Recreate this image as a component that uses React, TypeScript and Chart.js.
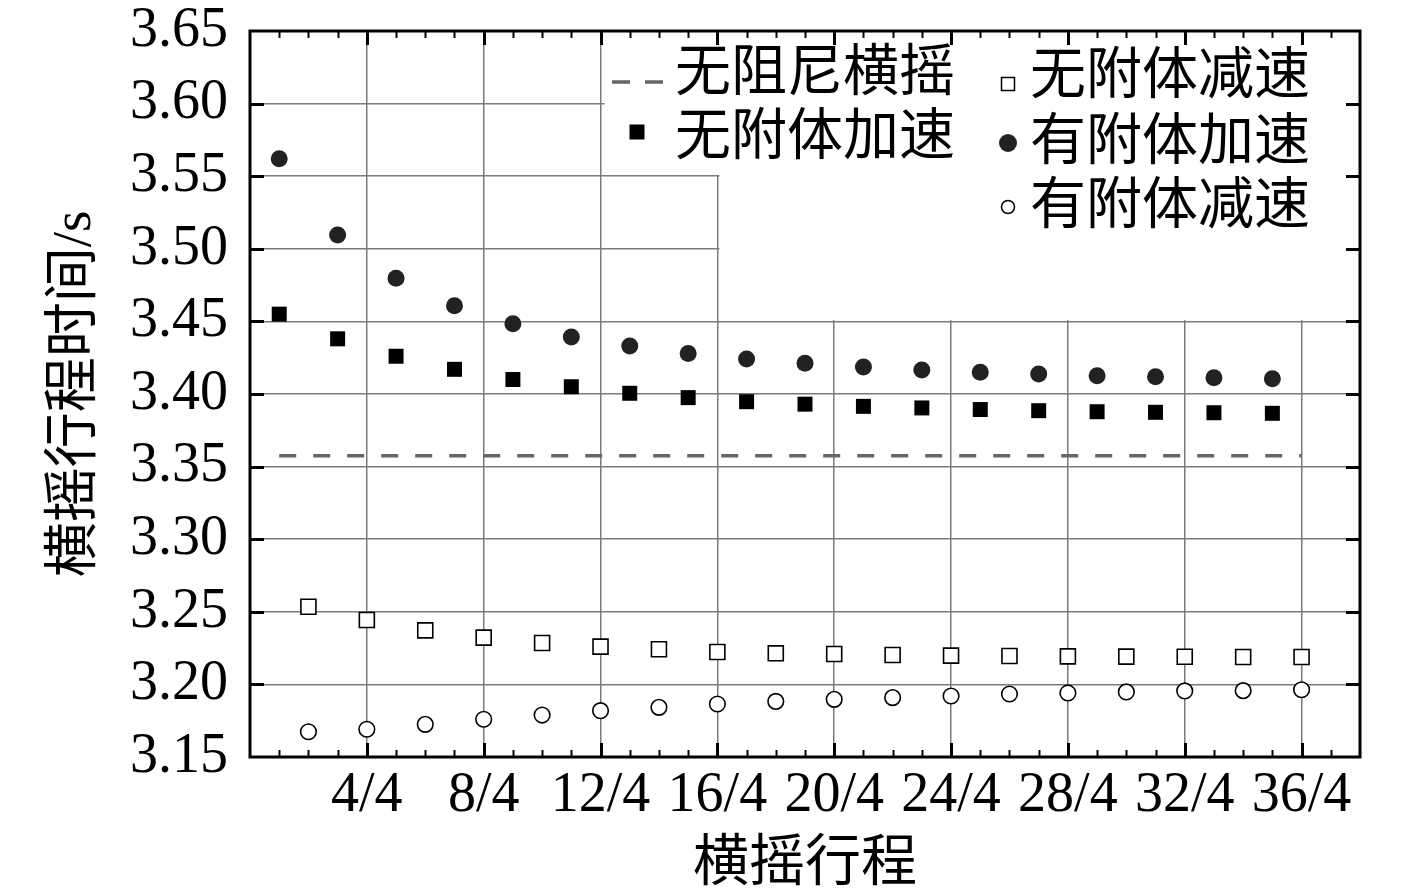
import React, { useEffect, useRef } from 'react';
import { Chart, registerables } from 'chart.js';

Chart.register(...registerables);

const FONT = '"Liberation Serif", "Noto Sans CJK SC", serif';

// 横摇行程 (quarter units) for the two groups of runs
const accelStrokes = [1, 3, 5, 7, 9, 11, 13, 15, 17, 19, 21, 23, 25, 27, 29, 31, 33, 35];
const decelStrokes = [2, 4, 6, 8, 10, 12, 14, 16, 18, 20, 22, 24, 26, 28, 30, 32, 34, 36];

// 横摇行程时间 / s
const noAppendageAccel = [3.455, 3.438, 3.426, 3.417, 3.41, 3.405, 3.4005, 3.3975, 3.3947, 3.393, 3.3915, 3.3904, 3.3893, 3.3885, 3.3878, 3.3874, 3.3871, 3.3867];
const withAppendageAccel = [3.562, 3.5095, 3.4797, 3.4608, 3.4484, 3.4393, 3.4331, 3.4279, 3.4241, 3.4211, 3.4186, 3.4165, 3.415, 3.4138, 3.4126, 3.4119, 3.4112, 3.4105];
const noAppendageDecel = [3.2535, 3.2444, 3.2372, 3.2322, 3.2285, 3.226, 3.2242, 3.2223, 3.2214, 3.2209, 3.2202, 3.2198, 3.2196, 3.2193, 3.2191, 3.219, 3.2189, 3.2189];
const withAppendageDecel = [3.1674, 3.1691, 3.1725, 3.176, 3.1789, 3.1819, 3.1842, 3.1865, 3.1883, 3.1897, 3.1909, 3.192, 3.1934, 3.1941, 3.1948, 3.1955, 3.1957, 3.1963];

const undampedPeriod = [3.3575, 3.3575];
const undampedStrokes = [1, 36];

const xTickValues = [4, 8, 12, 16, 20, 24, 28, 32, 36];
const xTickLabels = ['4/4', '8/4', '12/4', '16/4', '20/4', '24/4', '28/4', '32/4', '36/4'];

const seriesLabels = ['无阻尼横摇', '无附体加速', '有附体加速', '无附体减速', '有附体减速'];
const xTitle = '横摇行程';
const yTitle = '横摇行程时间/s';

const toPoints = (xs: number[], ys: number[]) => xs.map((x, i) => ({ x, y: ys[i] }));

// legend placement (style): sample kind, sample centre, text start
const legendLayout = [
  { ds: 0, kind: 'dash', sx: 637, sy: 82, tx: 675, ty: 75 },
  { ds: 1, kind: 'fsq', sx: 637, sy: 132, tx: 675, ty: 139 },
  { ds: 3, kind: 'osq', sx: 1008, sy: 84, tx: 1030, ty: 78 },
  { ds: 2, kind: 'fci', sx: 1008, sy: 143, tx: 1030, ty: 144 },
  { ds: 4, kind: 'oci', sx: 1008, sy: 207, tx: 1030, ty: 208 },
];

const framePlugin = {
  id: 'framePlugin',
  beforeDatasetsDraw(chart: any) {
    const { ctx, chartArea: a, scales } = chart;
    const x = scales.x;
    const y = scales.y;
    ctx.save();
    ctx.fillStyle = '#fff';
    const xA = x.getPixelForValue(12) + 4;
    const yA = y.getPixelForValue(3.55) - 1.2;
    ctx.fillRect(xA, a.top, a.right - xA, yA - a.top);
    const xB = x.getPixelForValue(16) + 2;
    const yB = y.getPixelForValue(3.45) - 1.2;
    ctx.fillRect(xB, a.top, a.right - xB, yB - a.top);
    ctx.restore();
  },
  afterDraw(chart: any) {
    const { ctx, chartArea: a, scales } = chart;
    const x = scales.x;
    const y = scales.y;
    ctx.save();
    ctx.strokeStyle = '#000';
    ctx.lineCap = 'butt';
    // x ticks (inward) on bottom and top
    for (let v = Math.ceil(x.min) + 1; v < x.max; v++) {
      const px = Math.round(x.getPixelForValue(v)) + 0.5;
      const major = v % 4 === 0;
      const len = major ? 14 : 7;
      ctx.lineWidth = major ? 3 : 2;
      ctx.beginPath();
      ctx.moveTo(px, a.bottom);
      ctx.lineTo(px, a.bottom - len);
      ctx.moveTo(px, a.top);
      ctx.lineTo(px, a.top + len);
      ctx.stroke();
    }
    // y ticks (inward) on left and right
    ctx.lineWidth = 3;
    y.ticks.forEach((t: any) => {
      if (t.value <= y.min + 1e-9 || t.value >= y.max - 1e-9) return;
      const py = Math.round(y.getPixelForValue(t.value)) + 0.5;
      ctx.beginPath();
      ctx.moveTo(a.left, py);
      ctx.lineTo(a.left + 14, py);
      ctx.moveTo(a.right, py);
      ctx.lineTo(a.right - 14, py);
      ctx.stroke();
    });
    // frame
    ctx.lineWidth = 3;
    ctx.strokeRect(a.left, a.top, a.right - a.left, a.bottom - a.top);

    // legend
    const dsets = chart.data.datasets;
    legendLayout.forEach((item) => {
      const { sx, sy } = item;
      ctx.save();
      if (item.kind === 'dash') {
        ctx.strokeStyle = '#666';
        ctx.lineWidth = 3.5;
        ctx.beginPath();
        ctx.moveTo(sx - 25, sy);
        ctx.lineTo(sx - 7, sy);
        ctx.moveTo(sx + 8, sy);
        ctx.lineTo(sx + 26, sy);
        ctx.stroke();
      } else if (item.kind === 'fsq') {
        ctx.fillStyle = '#000';
        ctx.fillRect(sx - 7.5, sy - 7.5, 15, 15);
      } else if (item.kind === 'osq') {
        ctx.strokeStyle = '#000';
        ctx.lineWidth = 1.5;
        ctx.fillStyle = '#fff';
        ctx.fillRect(sx - 6.5, sy - 6.5, 13, 13);
        ctx.strokeRect(sx - 6.5, sy - 6.5, 13, 13);
      } else if (item.kind === 'fci') {
        ctx.fillStyle = '#222';
        ctx.beginPath();
        ctx.arc(sx, sy, 9, 0, Math.PI * 2);
        ctx.fill();
      } else if (item.kind === 'oci') {
        ctx.strokeStyle = '#000';
        ctx.lineWidth = 1.5;
        ctx.beginPath();
        ctx.arc(sx, sy, 6.5, 0, Math.PI * 2);
        ctx.stroke();
      }
      ctx.restore();
      ctx.fillStyle = '#000';
      ctx.font = `56px ${FONT}`;
      ctx.textAlign = 'left';
      ctx.textBaseline = 'middle';
      ctx.fillText(dsets[item.ds].label, item.tx, item.ty);
    });
    ctx.restore();
  },
};

export default function App() {
  const ref = useRef<HTMLCanvasElement>(null);

  useEffect(() => {
    if (!ref.current) return;
    const chart = new Chart(ref.current, {
      type: 'scatter',
      data: {
        datasets: [
          {
            label: seriesLabels[0],
            data: toPoints(undampedStrokes, undampedPeriod),
            showLine: true,
            borderColor: '#666',
            borderWidth: 3.5,
            borderDash: [17, 17],
            pointRadius: 0,
            pointHoverRadius: 0,
            fill: false,
          },
          {
            label: seriesLabels[1],
            data: toPoints(accelStrokes, noAppendageAccel),
            pointStyle: 'rect',
            pointRadius: 10.6,
            pointHoverRadius: 10.6,
            pointBackgroundColor: '#000',
            pointBorderColor: '#000',
            pointBorderWidth: 0,
          },
          {
            label: seriesLabels[2],
            data: toPoints(accelStrokes, withAppendageAccel),
            pointStyle: 'circle',
            pointRadius: 8.5,
            pointHoverRadius: 8.5,
            pointBackgroundColor: '#222',
            pointBorderColor: '#222',
            pointBorderWidth: 0,
          },
          {
            label: seriesLabels[3],
            data: toPoints(decelStrokes, noAppendageDecel),
            pointStyle: 'rect',
            pointRadius: 10.6,
            pointHoverRadius: 10.6,
            pointBackgroundColor: '#fff',
            pointBorderColor: '#000',
            pointBorderWidth: 1.6,
          },
          {
            label: seriesLabels[4],
            data: toPoints(decelStrokes, withAppendageDecel),
            pointStyle: 'circle',
            pointRadius: 7.8,
            pointHoverRadius: 7.8,
            pointBackgroundColor: '#fff',
            pointBorderColor: '#000',
            pointBorderWidth: 1.6,
          },
        ],
      },
      options: {
        responsive: false,
        animation: false,
        devicePixelRatio: 1,
        events: [],
        layout: { padding: { top: 31, right: 57, bottom: 0, left: 0 } },
        plugins: {
          legend: { display: false },
          tooltip: { enabled: false },
        },
        scales: {
          x: {
            type: 'linear',
            min: 0,
            max: 38,
            afterFit: (s: any) => {
              s.height = 139;
              s.paddingLeft = 0;
              s.paddingRight = 0;
            },
            grid: { color: '#7a7a7a', lineWidth: 1.5, drawTicks: false },
            border: { display: false },
            ticks: {
              stepSize: 4,
              includeBounds: false,
              autoSkip: false,
              maxRotation: 0,
              padding: 6,
              color: '#000',
              font: { family: FONT, size: 56, lineHeight: 1.2 },
              callback: (v: any) => {
                const i = xTickValues.indexOf(Number(v));
                return i >= 0 ? xTickLabels[i] : '';
              },
            },
            title: {
              display: true,
              text: xTitle,
              color: '#000',
              font: { family: FONT, size: 56, lineHeight: 1 },
              padding: { top: 0, bottom: 3 },
            },
          },
          y: {
            type: 'linear',
            min: 3.15,
            max: 3.65,
            afterFit: (s: any) => {
              s.width = 250;
              s.paddingTop = 0;
              s.paddingBottom = 0;
            },
            grid: { color: '#7a7a7a', lineWidth: 1.5, drawTicks: false },
            border: { display: false },
            ticks: {
              stepSize: 0.05,
              padding: 22,
              color: '#000',
              font: { family: FONT, size: 56, lineHeight: 1.2 },
              callback: (v: any) => Number(v).toFixed(2),
            },
            title: {
              display: true,
              text: yTitle,
              color: '#000',
              font: { family: FONT, size: 55, lineHeight: 1.2 },
              padding: { top: 43, bottom: 0 },
            },
          },
        },
      },
      plugins: [framePlugin],
    } as any);
    return () => chart.destroy();
  }, []);

  return (
    <div style={{ position: 'fixed', left: 0, top: 0, width: 1417, height: 896, background: '#fff' }}>
      <canvas ref={ref} width={1417} height={896} style={{ display: 'block', width: 1417, height: 896 }} />
    </div>
  );
}
